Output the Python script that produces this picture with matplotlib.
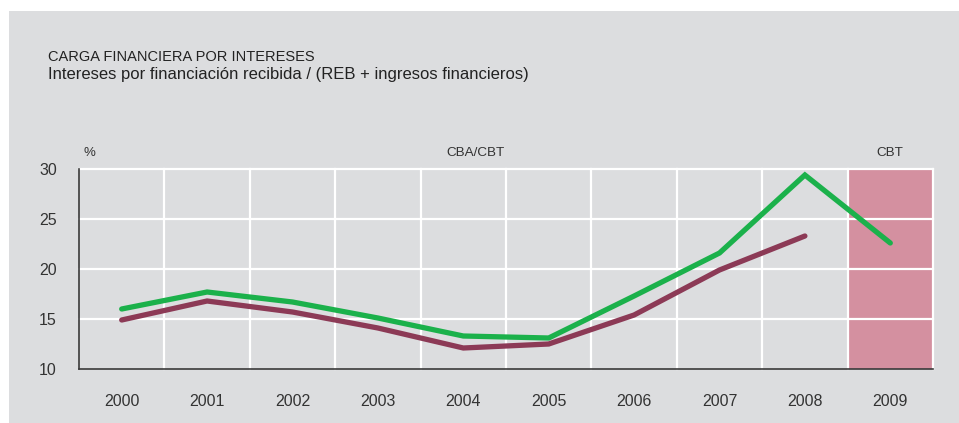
import matplotlib
matplotlib.use("Agg")
import matplotlib.pyplot as plt
from matplotlib.patches import Rectangle

plt.rcParams['font.family'] = ['Liberation Sans', 'DejaVu Sans']

# datos
years = ['2000', '2001', '2002', '2003', '2004', '2005', '2006', '2007', '2008', '2009']
green_vals = [16.0, 17.7, 16.7, 15.1, 13.3, 13.1, 17.3, 21.6, 29.4, 22.6]
maroon_vals = [14.9, 16.8, 15.7, 14.1, 12.1, 12.5, 15.4, 19.9, 23.3]
yticks = [10, 15, 20, 25, 30]

bg = '#dcdddf'
txt = '#333333'

fig = plt.figure(figsize=(9.59, 4.23), dpi=100)
fig.patch.set_facecolor('white')
fig.patches.append(Rectangle((9 / 959, 0), 1, (423 - 11) / 423, transform=fig.transFigure,
                             facecolor=bg, edgecolor='none', zorder=-5))

ax = fig.add_axes([79 / 959, (423 - 369) / 423, (933 - 79) / 959, 200 / 423])
ax.set_facecolor(bg)

x = list(range(len(years)))
ax.axvspan(8.5, 9.5, color='#d490a0', zorder=0.5, lw=0)

# rejilla blanca, incluidos borde superior y derecho
for v in yticks[1:]:
    ax.axhline(v, color='white', lw=1.6, zorder=1, clip_on=False)
for b in [i + 0.5 for i in range(len(years))]:
    ax.axvline(b, color='white', lw=1.6, zorder=1, clip_on=False)

ax.plot(x, green_vals, color='#1bb14b', lw=3.8, solid_capstyle='round', solid_joinstyle='miter', zorder=3)
ax.plot(x[:len(maroon_vals)], maroon_vals, color='#8c3a56', lw=3.8, solid_capstyle='round',
        solid_joinstyle='miter', zorder=3)

ax.set_xlim(-0.5, 9.5)
ax.set_ylim(10, 30)
ax.set_xticks(x)
ax.set_xticklabels(years)
ax.set_yticks(yticks)
ax.tick_params(axis='both', length=0, labelsize=11.5, colors=txt)
ax.tick_params(axis='x', pad=18)
ax.tick_params(axis='y', pad=16)

for s in ['top', 'right']:
    ax.spines[s].set_visible(False)
for s in ['left', 'bottom']:
    ax.spines[s].set_color('#3a3a3a')
    ax.spines[s].set_linewidth(1.2)
    ax.spines[s].set_zorder(4)

ax.text(-0.45, 31.0, '%', fontsize=9.5, color=txt, ha='left', va='bottom')
ax.text(4.14, 31.0, 'CBA/CBT', fontsize=9.7, color=txt, ha='center', va='bottom')
ax.text(9.0, 31.0, 'CBT', fontsize=9.7, color=txt, ha='center', va='bottom')

fig.text(48 / 959, 1 - 57 / 423, 'CARGA FINANCIERA POR INTERESES', fontsize=10.5, color='#222222',
         ha='left', va='center')
fig.text(48 / 959, 1 - 75 / 423, 'Intereses por financiación recibida / (REB + ingresos financieros)',
         fontsize=12, color='#222222', ha='left', va='center')

fig.savefig('out.png', dpi=100, facecolor=fig.get_facecolor())
